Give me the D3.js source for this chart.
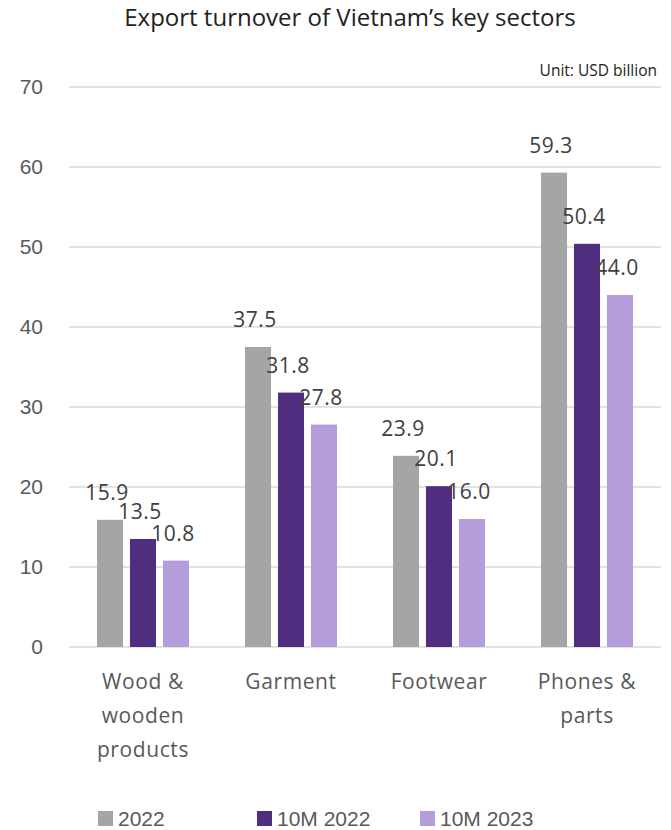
<!DOCTYPE html>
<html><head><meta charset="utf-8">
<script src="https://cdn.jsdelivr.net/npm/d3@7"></script>
<style>body{margin:0;background:#fff}</style>
</head><body>
<svg id="c" width="671" height="830"></svg>
<script>
const categories = [["Wood &","wooden","products"],["Garment"],["Footwear"],["Phones &","parts"]];
const seriesNames = ["2022","10M 2022","10M 2023"];
const values2022 = [15.9, 37.5, 23.9, 59.3];
const values10M2022 = [13.5, 31.8, 20.1, 50.4];
const values10M2023 = [10.8, 27.8, 16.0, 44.0];
const yTicks = [0,10,20,30,40,50,60,70];
const colors = ["#a5a5a5","#4f2d7f","#b59ddc"];
const title = "Export turnover of Vietnam\u2019s key sectors";
const unitLabel = "Unit: USD billion";

const series = [values2022, values10M2022, values10M2023];
const svg = d3.select("#c");
const geo = "'Open Sans', 'Noto Sans', sans-serif";
const plain = "'Liberation Sans', Arial, sans-serif";

const x0 = d3.scaleBand().domain(d3.range(categories.length)).range([69, 661]).paddingInner(0).paddingOuter(0);
const x1 = d3.scaleBand().domain(d3.range(series.length)).range([28, 120]).paddingInner(0.21).paddingOuter(0);
const y = d3.scaleLinear().domain([0, 70]).range([647, 87]);

// gridlines
svg.append("g").selectAll("line").data(yTicks).join("line")
  .attr("x1", 69).attr("x2", 661)
  .attr("y1", d => y(d)).attr("y2", d => y(d))
  .attr("stroke", "#d9d9d9").attr("stroke-width", 1.5);

// y tick labels
svg.append("g").selectAll("text").data(yTicks).join("text")
  .attr("x", 43).attr("y", d => y(d)).attr("dy", "0.35em")
  .attr("text-anchor", "end").attr("font-family", plain).attr("font-size", 21)
  .attr("fill", "#595959").text(d => d);

// bars
const groups = svg.append("g").selectAll("g").data(categories).join("g")
  .attr("transform", (d, i) => `translate(${x0(i)},0)`);
groups.each(function(cat, ci) {
  const g = d3.select(this);
  series.forEach((s, si) => {
    g.append("rect")
      .attr("x", x1(si)).attr("width", x1.bandwidth())
      .attr("y", y(s[ci])).attr("height", y(0) - y(s[ci]))
      .attr("fill", colors[si]);
    g.append("text")
      .attr("x", x1(si) + x1.bandwidth() / 2 - 3).attr("y", y(s[ci]) - 20)
      .attr("text-anchor", "middle").attr("font-family", geo).attr("font-size", 21)
      .attr("letter-spacing", 0.5)
      .attr("fill", "#404040").text(s[ci].toFixed(1));
  });
  const t = g.append("text").attr("text-anchor", "middle").attr("font-family", geo)
    .attr("font-size", 21).attr("letter-spacing", 0.6).attr("fill", "#595959");
  cat.forEach((line, li) => {
    t.append("tspan").attr("x", x0.bandwidth() / 2).attr("y", 689 + li * 34).text(line);
  });
});

// title
svg.append("text").attr("x", 350).attr("y", 26).attr("text-anchor", "middle")
  .attr("font-family", geo).attr("font-size", 24).attr("fill", "#222").text(title);
svg.append("text").attr("x", 657).attr("y", 76).attr("text-anchor", "end")
  .attr("font-family", geo).attr("font-size", 15.5).attr("fill", "#222").text(unitLabel);

// legend
const legX = [98, 257, 420];
const leg = svg.append("g").selectAll("g").data(seriesNames).join("g")
  .attr("transform", (d, i) => `translate(${legX[i]},0)`);
leg.append("rect").attr("x", 0).attr("y", 811).attr("width", 15).attr("height", 15)
  .attr("fill", (d, i) => colors[i]);
leg.append("text").attr("x", 20).attr("y", 826).attr("font-family", plain)
  .attr("font-size", 21).attr("fill", "#595959").text(d => d);
</script>
</body></html>
